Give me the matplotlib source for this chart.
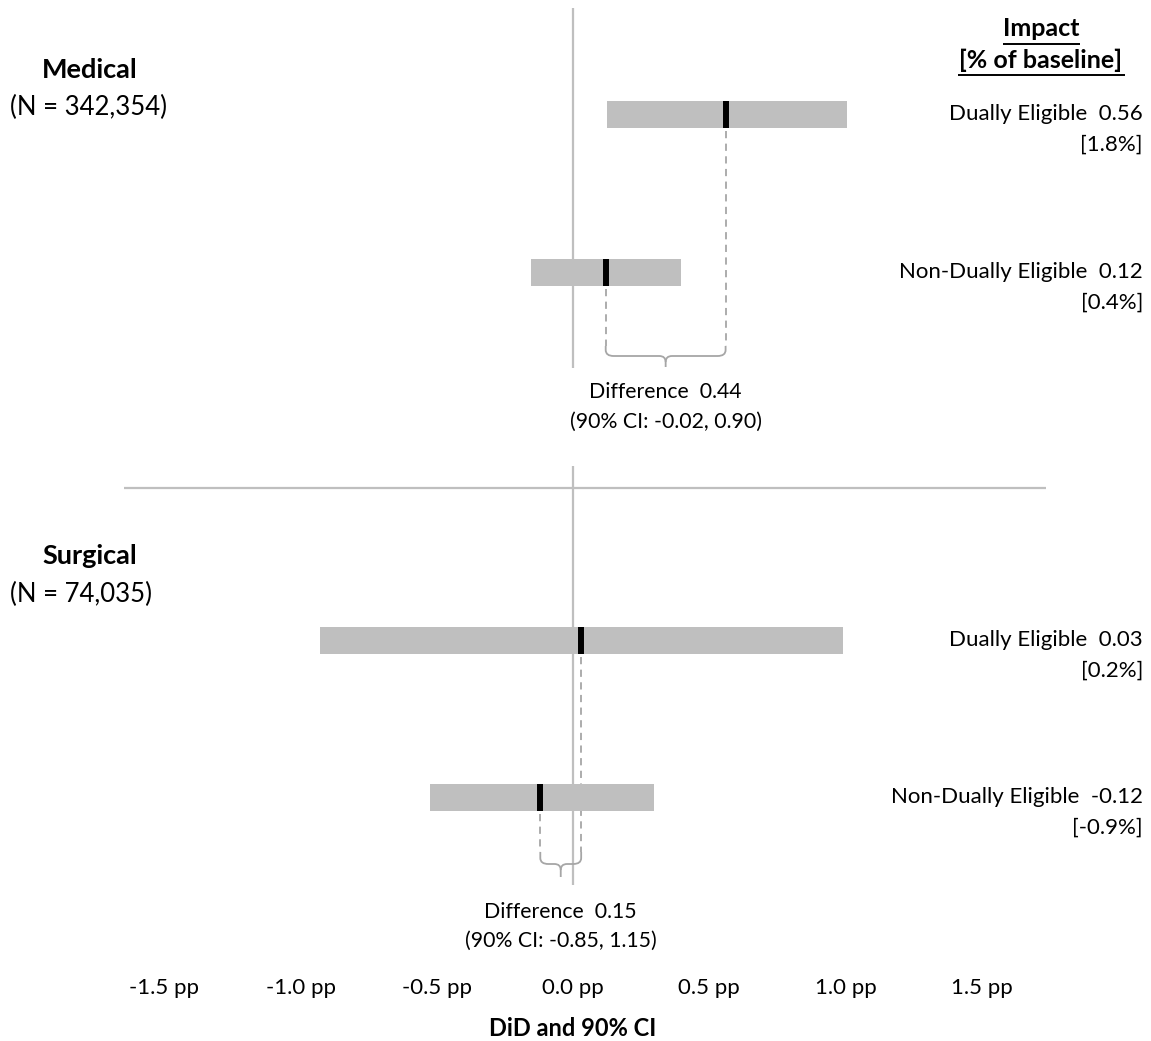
import matplotlib
matplotlib.use("Agg")
import matplotlib.pyplot as plt
from matplotlib.path import Path
from matplotlib.patches import PathPatch
from matplotlib import font_manager

# ---------------- data ----------------
groups = ["Medical", "Surgical"]
group_n = ["(N = 342,354)", "(N = 74,035)"]
series = ["Dually Eligible", "Non-Dually Eligible"]
did = [[0.56, 0.12], [0.03, -0.12]]
ci_low = [[0.125, -0.154], [-0.928, -0.525]]
ci_high = [[1.006, 0.396], [0.991, 0.297]]
pct_baseline = [["[1.8%]", "[0.4%]"], ["[0.2%]", "[-0.9%]"]]
did_labels = [["0.56", "0.12"], ["0.03", "-0.12"]]
diff_values = ["0.44", "0.15"]
diff_ci = ["(90% CI: -0.02, 0.90)", "(90% CI: -0.85, 1.15)"]
tick_values = [-1.5, -1.0, -0.5, 0.0, 0.5, 1.0, 1.5]
tick_labels = ["-1.5 pp", "-1.0 pp", "-0.5 pp", "0.0 pp", "0.5 pp", "1.0 pp", "1.5 pp"]

# ---------------- layout ----------------
W, H = 1151, 1041
x0_px, px_per_pp = 573.0, 272.5
avail = {f.name for f in font_manager.fontManager.ttflist}
main_font = "Lato" if "Lato" in avail else "DejaVu Sans"
tick_font = "Liberation Sans Narrow" if "Liberation Sans Narrow" in avail else main_font

fig = plt.figure(figsize=(W / 100, H / 100), dpi=100)
ax = fig.add_axes([0, 0, 1, 1])
ax.set_xlim(-x0_px / px_per_pp, (W - x0_px) / px_per_pp)
ax.set_ylim(H, 0)
ax.axis("off")

grey = "#bfbfbf"
dash_grey = "#a6a6a6"
fs = 16
fs_diff = 15.3

row_y = [[114, 272], [640, 797]]
bar_h = 27
zero_span = [(8, 368), (466, 885)]
title_y = [(70, 107), (556, 594)]
bracket_y = [(346, 356, 367), (852, 864, 877)]
diff_text_y = [(392, 422), (912, 941)]
pp = 1.0 / px_per_pp

def X(px):
    return (px - x0_px) * pp

# separator
ax.hlines(488, X(124), X(1046), color=grey, lw=1.6)

for g in range(2):
    ax.vlines(0, zero_span[g][0], zero_span[g][1], color=grey, lw=1.6, zorder=1)
    for s in range(2):
        y = row_y[g][s]
        ax.barh(y, ci_high[g][s] - ci_low[g][s], left=ci_low[g][s], height=bar_h,
                color=grey, zorder=2)
        ax.vlines(did[g][s], y - bar_h / 2, y + bar_h / 2, color="black", lw=4.3, zorder=3)
        ax.text(X(1143), y, f"{series[s]}  {did_labels[g][s]}",
                ha="right", va="center", fontsize=fs, family=main_font)
        ax.text(X(1143), y + 31, pct_baseline[g][s],
                ha="right", va="center", fontsize=fs, family=main_font)
    # dashed drop lines from each point estimate down to the bracket
    ye, yb, yn = bracket_y[g]
    for s in range(2):
        ax.vlines(did[g][s], row_y[g][s] + bar_h / 2 + 3, ye, color=dash_grey, lw=1.3,
                  linestyles=(0, (4, 3)), zorder=1.5)
    xa, xb = sorted([did[g][0], did[g][1]])
    r = 8 * pp
    xm = (xa + xb) / 2
    verts = [(xa, ye), (xa, yb - 6), (xa, yb), (xa + r, yb), (xm - r * 0.8, yb),
             (xm, yb), (xm, yb + 6), (xm, yn)]
    codes = [Path.MOVETO, Path.LINETO, Path.CURVE3, Path.CURVE3, Path.LINETO,
             Path.CURVE3, Path.CURVE3, Path.LINETO]
    ax.add_patch(PathPatch(Path(verts, codes), fill=False, edgecolor=dash_grey, lw=1.3, zorder=2))
    verts2 = [(xb, ye), (xb, yb - 6), (xb, yb), (xb - r, yb), (xm + r * 0.8, yb),
              (xm, yb), (xm, yb + 6)]
    codes2 = [Path.MOVETO, Path.LINETO, Path.CURVE3, Path.CURVE3, Path.LINETO,
              Path.CURVE3, Path.CURVE3]
    ax.add_patch(PathPatch(Path(verts2, codes2), fill=False, edgecolor=dash_grey, lw=1.3, zorder=2))
    ax.text(xm, diff_text_y[g][0], f"Difference  {diff_values[g]}", ha="center", va="center",
            fontsize=fs_diff, family=main_font)
    ax.text(xm, diff_text_y[g][1], diff_ci[g], ha="center", va="center",
            fontsize=fs_diff, family=main_font)
    # group titles
    ax.text(X(90), title_y[g][0], groups[g], ha="center", va="center",
            fontsize=19.5, fontweight="bold", family=main_font)
    ax.text(X(10), title_y[g][1], group_n[g], ha="left", va="center",
            fontsize=18.5, family=main_font)

# header
ax.text(X(1041), 28, "Impact", ha="center", va="center", fontsize=18,
        fontweight="bold", family=main_font)
ax.text(X(1041), 60, "[% of baseline]", ha="center", va="center", fontsize=18,
        fontweight="bold", family=main_font)
ax.hlines(44, X(1003), X(1080), color="black", lw=1.4)
ax.hlines(75, X(958), X(1125), color="black", lw=1.4)

# x tick labels and axis title
for v, lab in zip(tick_values, tick_labels):
    ax.text(v, 988, lab, ha="center", va="center", fontsize=16, family=tick_font)
ax.text(0, 1029, "DiD and 90% CI", ha="center", va="center", fontsize=17,
        fontweight="bold", family=tick_font)

fig.savefig("out.png", dpi=100)
